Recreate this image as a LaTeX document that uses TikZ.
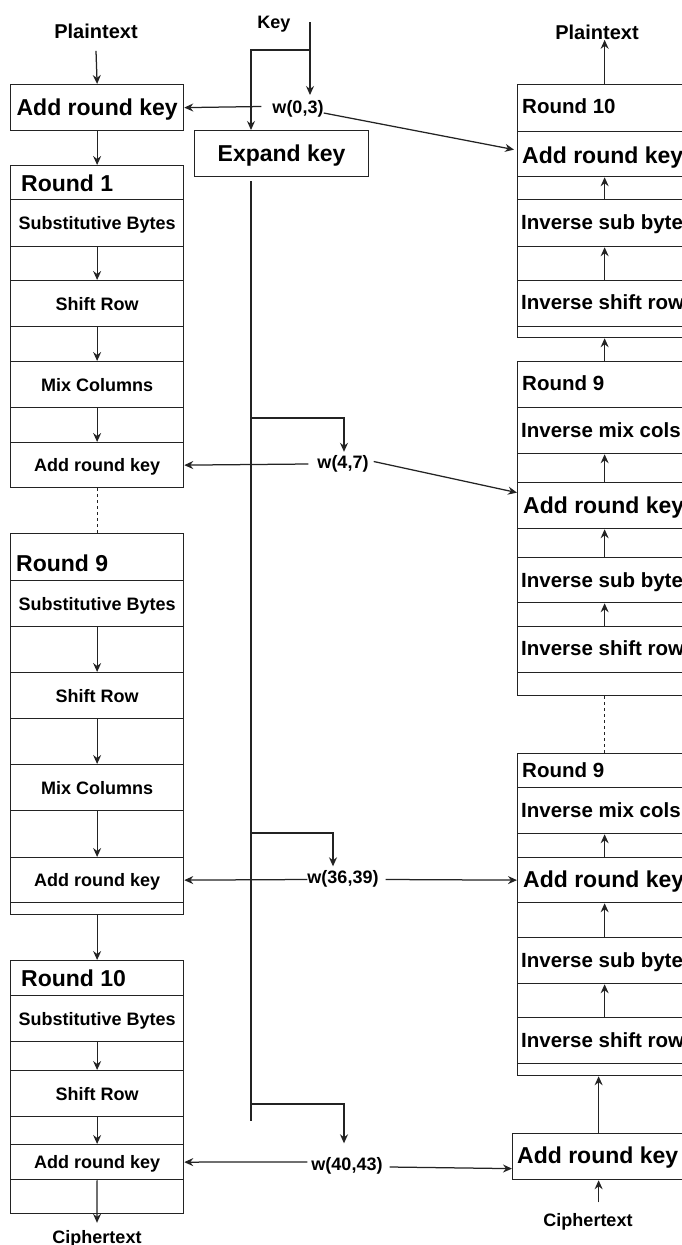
\documentclass[tikz,border=0pt]{standalone}
\usepackage{fontspec}
\setmainfont{Liberation Sans}
\usetikzlibrary{arrows.meta}
\definecolor{lc}{RGB}{35,35,35}
\begin{document}
\begin{tikzpicture}[x=1pt,y=-1pt,
  box/.style={draw=lc, line width=1.25pt, inner sep=0pt, fill=white},
  lrow/.style={box, minimum width=173pt, minimum height=#1, anchor=north west},
  rrow/.style={box, minimum width=174pt, minimum height=#1, anchor=north west},
  arr/.style={line width=1.25pt, draw=lc, -{Stealth[length=9pt,width=8pt,inset=3pt]}},
  ln/.style={line width=1.25pt, draw=lc},
  dsh/.style={line width=1.1pt, draw=lc, dash pattern=on 3pt off 3pt},
  tA/.style={inner sep=0pt, text height=13pt, text depth=0pt, font=\fontsize{18}{20}\selectfont\bfseries},
  tP/.style={inner sep=0pt, text height=14.3pt, text depth=0pt, font=\fontsize{20}{22}\selectfont\bfseries},
  tB/.style={inner sep=0pt, text height=16.5pt, text depth=0pt, font=\fontsize{23}{26}\selectfont\bfseries},
  tC/.style={inner sep=0pt, text height=14.7pt, text depth=0pt, font=\fontsize{20.5}{24}\selectfont\bfseries},
]
\useasboundingbox (0,0) rectangle (682,1245);
\clip (0,0) rectangle (682,1245);
\fill[white] (0,0) rectangle (682,1245);

% ---------------- left column ----------------
\node[tP] (ptL) at (96,31.5) {Plaintext};
\node[lrow=46pt, minimum width=173pt, tB] (ark) at (10,84) {Add round key};

% Round 1
\node[lrow=34pt] (r1h) at (10,165) {};
\node[tB, anchor=west] (r1ht) at (21,183) {Round 1};
\node[lrow=47pt, tA] (r1a) at (10,199) {Substitutive Bytes};
\node[lrow=34pt] (r1b) at (10,246) {};
\node[lrow=46pt, tA] (r1c) at (10,280) {Shift Row};
\node[lrow=35pt] (r1d) at (10,326) {};
\node[lrow=46pt, tA] (r1e) at (10,361) {Mix Columns};
\node[lrow=35pt] (r1f) at (10,407) {};
\node[lrow=45pt, tA] (r1g) at (10,442) {Add round key};

% Round 9 (left)
\node[lrow=47pt] (r9h) at (10,533) {};
\node[tB, anchor=west] (r9ht) at (16,563) {Round 9};
\node[lrow=46pt, tA] (r9a) at (10,580) {Substitutive Bytes};
\node[lrow=46pt] (r9b) at (10,626) {};
\node[lrow=46pt, tA] (r9c) at (10,672) {Shift Row};
\node[lrow=46pt] (r9d) at (10,718) {};
\node[lrow=46pt, tA] (r9e) at (10,764) {Mix Columns};
\node[lrow=47pt] (r9f) at (10,810) {};
\node[lrow=45pt, tA] (r9g) at (10,857) {Add round key};
\node[lrow=12pt] (r9i) at (10,902) {};

% Round 10 (left)
\node[lrow=35pt] (rah) at (10,960) {};
\node[tB, anchor=west] (raht) at (21,978) {Round 10};
\node[lrow=46pt, tA] (raa) at (10,995) {Substitutive Bytes};
\node[lrow=29pt] (rab) at (10,1041) {};
\node[lrow=46pt, tA] (rac) at (10,1070) {Shift Row};
\node[lrow=28pt] (rad) at (10,1116) {};
\node[lrow=35pt, tA] (rae) at (10,1144) {Add round key};
\node[lrow=34pt] (raf) at (10,1179) {};
\node[tA] (ctL) at (97,1236.5) {Ciphertext};

% ---------------- key column ----------------
\node[tA] (keyn) at (274,21.5) {Key};
\node[box, minimum width=174pt, minimum height=46pt, anchor=north west, tB] (exp) at (194,130) {Expand key};
\node[tA] (w03) at (298,106.5) {w(0,3)};
\node[tA] (w47) at (343,461.5) {w(4,7)};
\node[tA] (w3639) at (343,877) {w(36,39)};
\node[tA] (w4043) at (347,1164) {w(40,43)};

\coordinate (k0) at (310,22);
\coordinate (kb) at (310,50);
\coordinate (w03t) at (310,95);
\coordinate (sp0) at (251,181);
\coordinate (sp1) at (251,1121);
\coordinate (b1) at (251,418);
\coordinate (b2) at (251,833);
\coordinate (b3) at (251,1104);

% ---------------- right column ----------------
\node[tP] (ptR) at (597,32.5) {Plaintext};
% Round 10 (right)
\node[rrow=47pt] (sh) at (517,84) {};
\node[tC, anchor=west] (sht) at (522,106) {Round 10};
\node[rrow=45pt] (sa) at (517,131) {};
\node[tB, anchor=west] (sat) at (522,155) {Add round key};
\node[rrow=23pt] (sb) at (517,176) {};
\node[rrow=47pt] (sc) at (517,199) {};
\node[tC, anchor=west] (sct) at (521,222) {Inverse sub bytes};
\node[rrow=34pt] (sd) at (517,246) {};
\node[rrow=46pt] (se) at (517,280) {};
\node[tC, anchor=west] (set) at (521,302) {Inverse shift rows};
\node[rrow=11pt] (sf) at (517,326) {};

% Round 9 (right, first)
\node[rrow=46pt] (th) at (517,361) {};
\node[tC, anchor=west] (tht) at (522,383.5) {Round 9};
\node[rrow=46pt] (ta) at (517,407) {};
\node[tC, anchor=west] (tat) at (521,430) {Inverse mix cols};
\node[rrow=29pt] (tb) at (517,453) {};
\node[rrow=46pt] (tc) at (517,482) {};
\node[tB, anchor=west] (tct) at (523,505.5) {Add round key};
\node[rrow=29pt] (td) at (517,528) {};
\node[rrow=45pt] (te) at (517,557) {};
\node[tC, anchor=west] (tet) at (521,580) {Inverse sub bytes};
\node[rrow=24pt] (tf) at (517,602) {};
\node[rrow=46pt] (tg) at (517,626) {};
\node[tC, anchor=west] (tgt) at (521,648.5) {Inverse shift rows};
\node[rrow=23pt] (ti) at (517,672) {};

% Round 9 (right, second)
\node[rrow=34pt] (uh) at (517,753) {};
\node[tC, anchor=west] (uht) at (522,770) {Round 9};
\node[rrow=46pt] (ua) at (517,787) {};
\node[tC, anchor=west] (uat) at (521,810) {Inverse mix cols};
\node[rrow=24pt] (ub) at (517,833) {};
\node[rrow=45pt] (uc) at (517,857) {};
\node[tB, anchor=west] (uct) at (523,879.5) {Add round key};
\node[rrow=35pt] (ud) at (517,902) {};
\node[rrow=46pt] (ue) at (517,937) {};
\node[tC, anchor=west] (uet) at (521,960) {Inverse sub bytes};
\node[rrow=34pt] (uf) at (517,983) {};
\node[rrow=46pt] (ug) at (517,1017) {};
\node[tC, anchor=west] (ugt) at (521,1040) {Inverse shift rows};
\node[rrow=12pt] (ui) at (517,1063) {};

% bottom add round key
\node[box, minimum width=172pt, minimum height=46pt, anchor=north west] (v) at (512,1133) {};
\node[tB, anchor=west] (vt) at (517,1155.5) {Add round key};
\node[tA] (ctR) at (588,1220) {Ciphertext};

% ---------------- connectors ----------------
% left column
\draw[arr] ([yshift=-12pt]ptL.south) -- (ark.north);
\draw[arr] (ark.south) -- (r1h.north);
\draw[arr] (r1a.south) -- (r1c.north);
\draw[arr] (r1c.south) -- (r1e.north);
\draw[arr] (r1e.south) -- (r1g.north);
\draw[dsh] (r1g.south) -- (r9h.north);
\draw[arr] (r9a.south) -- (r9c.north);
\draw[arr] (r9c.south) -- (r9e.north);
\draw[arr] (r9e.south) -- (r9g.north);
\draw[arr] (r9i.south) -- (rah.north);
\draw[arr] (raa.south) -- (rac.north);
\draw[arr] (rac.south) -- (rae.north);
\draw[arr] (rae.south) -- ([yshift=7pt]ctL.north);

% key
\draw[arr] (k0) -- (w03t);
\draw[arr] (kb) -| ([xshift=57pt]exp.north west);
\draw[ln] (sp0) -- (sp1);
\draw[arr] (b1) -| ([xshift=1pt,yshift=3pt]w47.north);
\draw[arr] (b2) -| ([xshift=-10pt,yshift=4pt]w3639.north);
\draw[arr] (b3) -| ([xshift=-3pt,yshift=14pt]w4043.north);

% horizontal
\draw[arr] ([xshift=-11pt]w03.west) -- (ark.east);
\draw[arr] ([yshift=-6.5pt]w03.east) -- ([xshift=-3pt,yshift=4.5pt]sa.west);
\draw[arr] ([xshift=-9pt,yshift=-2.5pt]w47.west) -- (r1g.east);
\draw[arr] ([xshift=5pt]w47.east) -- ([yshift=13pt]tc.west);
\draw[arr] ([yshift=-2.5pt]w3639.west) -- (r9g.east);
\draw[arr] ([xshift=7pt,yshift=-2.5pt]w3639.east) -- (uc.west);
\draw[arr] ([xshift=-4pt,yshift=2pt]w4043.west) -- (rae.east);
\draw[arr] ([xshift=7pt,yshift=-3pt]w4043.east) -- ([yshift=-12pt]v.west);

% right column
\draw[arr] (sh.north) -- (sh.north |- ptR.south);
\draw[arr] (sc.north) -- (sa.south);
\draw[arr] (se.north) -- (sc.south);
\draw[arr] (th.north) -- (sf.south);
\draw[arr] (tc.north) -- (ta.south);
\draw[arr] (te.north) -- (tc.south);
\draw[arr] (tg.north) -- (te.south);
\draw[dsh] (ti.south) -- (uh.north);
\draw[arr] (uc.north) -- (ua.south);
\draw[arr] (ue.north) -- (uc.south);
\draw[arr] (ug.north) -- (ue.south);
\draw[arr] (v.north) -- (v.north |- ui.south);
\draw[arr] ([yshift=11pt]ctR.north -| v.south) -- (v.south);
\end{tikzpicture}
\end{document}
